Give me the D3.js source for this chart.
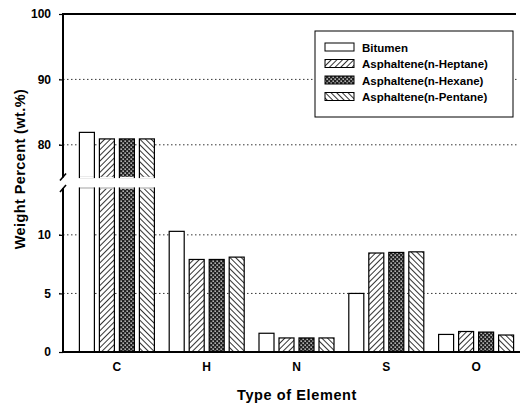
<!DOCTYPE html>
<html>
<head>
<meta charset="utf-8">
<script src="https://cdn.jsdelivr.net/npm/d3@7"></script>
<style>
  body { margin: 0; background: #fff; }
  text { font-family: "Liberation Sans", Arial, sans-serif; font-weight: bold; }
</style>
</head>
<body>
<div id="chart"></div>
<script>
// data
let elements = ["C", "H", "N", "S", "O"];
let seriesNames = ["Bitumen", "Asphaltene(n-Heptane)", "Asphaltene(n-Hexane)", "Asphaltene(n-Pentane)"];
let bitumen = [81.9, 10.3, 1.6, 5.0, 1.5];
let heptane = [80.9, 7.9, 1.2, 8.45, 1.75];
let hexane = [80.9, 7.9, 1.2, 8.5, 1.7];
let pentane = [80.9, 8.1, 1.2, 8.55, 1.45];
let lowerTicks = [0, 5, 10];
let upperTicks = [80, 90, 100];

let allSeries = [bitumen, heptane, hexane, pentane];
let fills = ["#fff", "url(#heptane)", "url(#hexane)", "url(#pentane)"];

let width = 526, height = 405;
let plotLeft = 63, plotBottom = 352, plotTop = 14, plotRight = 516;
let breakTop = 177.5, breakBottom = 188;

let svg = d3.select("#chart").append("svg")
    .attr("width", width)
    .attr("height", height);

// hatch patterns
let defs = svg.append("defs");
let p1 = defs.append("pattern").attr("id", "heptane")
    .attr("patternUnits", "userSpaceOnUse").attr("width", 4).attr("height", 4)
    .attr("patternTransform", "rotate(45)");
p1.append("rect").attr("width", 4).attr("height", 4).attr("fill", "#fff");
p1.append("line").attr("x1", 0).attr("y1", 0).attr("x2", 0).attr("y2", 4)
    .attr("stroke", "#000").attr("stroke-width", 1.6);

let p2 = defs.append("pattern").attr("id", "hexane")
    .attr("patternUnits", "userSpaceOnUse").attr("width", 4).attr("height", 4);
p2.append("rect").attr("width", 4).attr("height", 4).attr("fill", "#222");
p2.append("rect").attr("x", 0.5).attr("y", 0.5).attr("width", 1.3).attr("height", 1.3).attr("fill", "#fff");
p2.append("rect").attr("x", 2.5).attr("y", 2.5).attr("width", 1.3).attr("height", 1.3).attr("fill", "#fff");

let p3 = defs.append("pattern").attr("id", "pentane")
    .attr("patternUnits", "userSpaceOnUse").attr("width", 4).attr("height", 4)
    .attr("patternTransform", "rotate(-45)");
p3.append("rect").attr("width", 4).attr("height", 4).attr("fill", "#fff");
p3.append("line").attr("x1", 0).attr("y1", 0).attr("x2", 0).attr("y2", 4)
    .attr("stroke", "#000").attr("stroke-width", 1.6);

// scales: broken y axis
let yUpper = d3.scaleLinear().domain([75, 100]).range([breakTop, plotTop]);
let yLower = d3.scaleLinear().domain([0, 14]).range([plotBottom, breakBottom]);

let x0 = d3.scaleBand().domain(elements).range([72, 521]);
let x1 = d3.scaleBand().domain(d3.range(4)).range([0, x0.bandwidth()])
    .paddingInner(0.25).paddingOuter(0.37);

// grid lines
let grid = svg.append("g");
[80, 90].forEach(v => {
    grid.append("line").attr("x1", plotLeft - 4).attr("x2", 518)
        .attr("y1", yUpper(v)).attr("y2", yUpper(v))
        .attr("stroke", "#000").attr("stroke-width", 0.8).attr("stroke-dasharray", "1.5,2.5");
});
[5, 10].forEach(v => {
    grid.append("line").attr("x1", plotLeft - 4).attr("x2", 518)
        .attr("y1", yLower(v)).attr("y2", yLower(v))
        .attr("stroke", "#000").attr("stroke-width", 0.8).attr("stroke-dasharray", "1.5,2.5");
});

// bars
let bars = svg.append("g");
allSeries.forEach((vals, si) => {
    vals.forEach((v, ci) => {
        let bx = x0(elements[ci]) + x1(si);
        let bw = x1.bandwidth();
        if (v > 14) {
            bars.append("rect")
                .attr("x", bx).attr("y", yUpper(v))
                .attr("width", bw).attr("height", breakTop - yUpper(v))
                .attr("fill", fills[si]).attr("stroke", "#000").attr("stroke-width", 1.2);
            bars.append("rect")
                .attr("x", bx).attr("y", breakBottom)
                .attr("width", bw).attr("height", plotBottom - breakBottom)
                .attr("fill", fills[si]).attr("stroke", "#000").attr("stroke-width", 1.2);
            // hide stroke at cut edges
            bars.append("line").attr("x1", bx + 0.6).attr("x2", bx + bw - 0.6)
                .attr("y1", breakTop).attr("y2", breakTop)
                .attr("stroke", "#fff").attr("stroke-width", 1.4);
            bars.append("line").attr("x1", bx + 0.6).attr("x2", bx + bw - 0.6)
                .attr("y1", breakBottom).attr("y2", breakBottom)
                .attr("stroke", "#fff").attr("stroke-width", 1.4);
        } else {
            bars.append("rect")
                .attr("x", bx).attr("y", yLower(v))
                .attr("width", bw).attr("height", plotBottom - yLower(v))
                .attr("fill", fills[si]).attr("stroke", "#000").attr("stroke-width", 1.2);
        }
    });
});

// axes
let upperAxis = svg.append("g")
    .attr("transform", `translate(${plotLeft},0)`)
    .call(d3.axisLeft(yUpper).tickValues(upperTicks).tickSize(4).tickPadding(8));
let lowerAxis = svg.append("g")
    .attr("transform", `translate(${plotLeft},0)`)
    .call(d3.axisLeft(yLower).tickValues(lowerTicks).tickSize(4).tickPadding(8));
[upperAxis, lowerAxis].forEach(a => {
    a.select(".domain").remove();
    a.selectAll("line").attr("stroke-width", 1.2);
    a.selectAll("text").attr("font-size", 12).attr("fill", "#000")
        .style("font-family", "'Liberation Sans', Arial, sans-serif").style("font-weight", "bold");
});

// axis lines
svg.append("line").attr("x1", plotLeft).attr("x2", plotLeft).attr("y1", plotTop).attr("y2", breakTop)
    .attr("stroke", "#000").attr("stroke-width", 2);
svg.append("line").attr("x1", plotLeft).attr("x2", plotLeft).attr("y1", breakBottom).attr("y2", plotBottom)
    .attr("stroke", "#000").attr("stroke-width", 2);
svg.append("line").attr("x1", plotLeft - 1).attr("x2", plotRight).attr("y1", plotTop).attr("y2", plotTop)
    .attr("stroke", "#000").attr("stroke-width", 2);
svg.append("line").attr("x1", plotLeft - 1).attr("x2", 520).attr("y1", plotBottom).attr("y2", plotBottom)
    .attr("stroke", "#000").attr("stroke-width", 2);

// break marks
svg.append("path").attr("d", `M${plotLeft - 3},${breakTop + 3} L${plotLeft + 3},${breakTop - 4}`)
    .attr("stroke", "#000").attr("stroke-width", 1.6).attr("fill", "none");
svg.append("path").attr("d", `M${plotLeft - 3},${breakBottom + 4} L${plotLeft + 3},${breakBottom - 3}`)
    .attr("stroke", "#000").attr("stroke-width", 1.6).attr("fill", "none");

// x category labels
svg.append("g").selectAll("text")
    .data(elements).enter().append("text")
    .attr("x", d => x0(d) + x0.bandwidth() / 2)
    .attr("y", 371)
    .attr("text-anchor", "middle")
    .attr("font-size", 12)
    .text(d => d);

// axis titles
svg.append("text")
    .attr("x", 297).attr("y", 400)
    .attr("text-anchor", "middle")
    .attr("font-size", 14.5)
    .attr("letter-spacing", 0.6)
    .text("Type of Element");

svg.append("text")
    .attr("transform", "translate(25,169) rotate(-90)")
    .attr("text-anchor", "middle")
    .attr("font-size", 14.5)
    .attr("letter-spacing", 0.4)
    .text("Weight Percent  (wt.%)");

// legend
let legend = svg.append("g");
legend.append("rect").attr("x", 315).attr("y", 31).attr("width", 198).attr("height", 86)
    .attr("fill", "#fff").attr("stroke", "#000").attr("stroke-width", 1);
seriesNames.forEach((name, i) => {
    let ly = 43 + i * 16.5;
    legend.append("rect").attr("x", 325).attr("y", ly).attr("width", 29).attr("height", 8)
        .attr("fill", fills[i]).attr("stroke", "#000").attr("stroke-width", 1);
    legend.append("text").attr("x", 362).attr("y", ly + 8.5)
        .attr("font-size", 11.5).text(name);
});
</script>
</body>
</html>
